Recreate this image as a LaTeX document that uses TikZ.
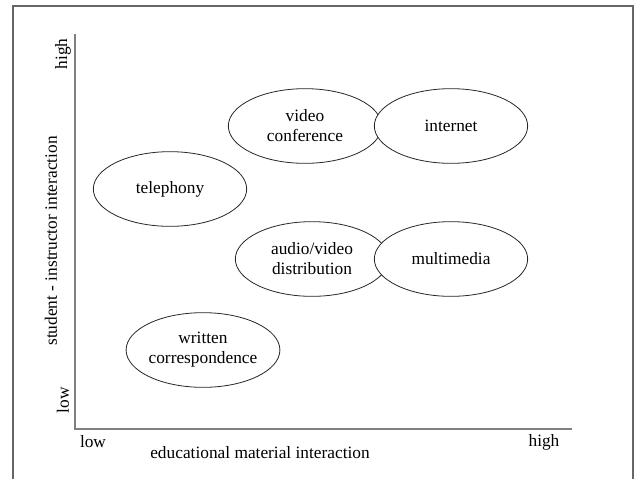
\documentclass[tikz,border=0pt]{standalone}
\usepackage{fontspec}
\setmainfont{Liberation Serif}
\usetikzlibrary{shapes.geometric}
\tikzset{
    medium/.style={ellipse,draw=black!85,fill=white,line width=0.6pt,minimum width=115pt,minimum height=56pt,inner sep=0pt,align=center},
    axisline/.style={draw=gray,line width=1.5pt},
}

\begin{document}
\begin{tikzpicture}[x=0.75pt,y=-0.75pt,font=\fontsize{13}{15}\selectfont]
    \useasboundingbox (0,0) rectangle (636,479);
    \draw[black!60,line width=1.5pt] (13,479) -- (13,6) -- (633,6) -- (633,479);
    % axes
    \coordinate (origin) at (75,429);
    \coordinate (ytop) at (75,34);
    \coordinate (xend) at (572,429);
    \draw[axisline] (ytop) -- (origin) -- (xend);
    \node[rotate=90] (yhigh) at (63,54) {high};
    \node[rotate=90] (ylow) at (63,400) {low};
    \node[rotate=90] (ytitle) at (51,241) {student - instructor interaction};
    \node (xlow) at (93,442) {low};
    \node (xhigh) at (544,442) {high};
    \node (xtitle) at (260,453) {educational material interaction};
    % media
    \node[medium] (video) at (305,126) {video\\conference};
    \node[medium] (internet) at (451,126) {internet};
    \node[medium] (telephony) at (170,189) {telephony};
    \node[medium] (audio) at (312,259) {audio/video\\distribution};
    \node[medium] (multimedia) at (451,259) {multimedia};
    \node[medium] (written) at (203,350) {written\\correspondence};
\end{tikzpicture}
\end{document}
